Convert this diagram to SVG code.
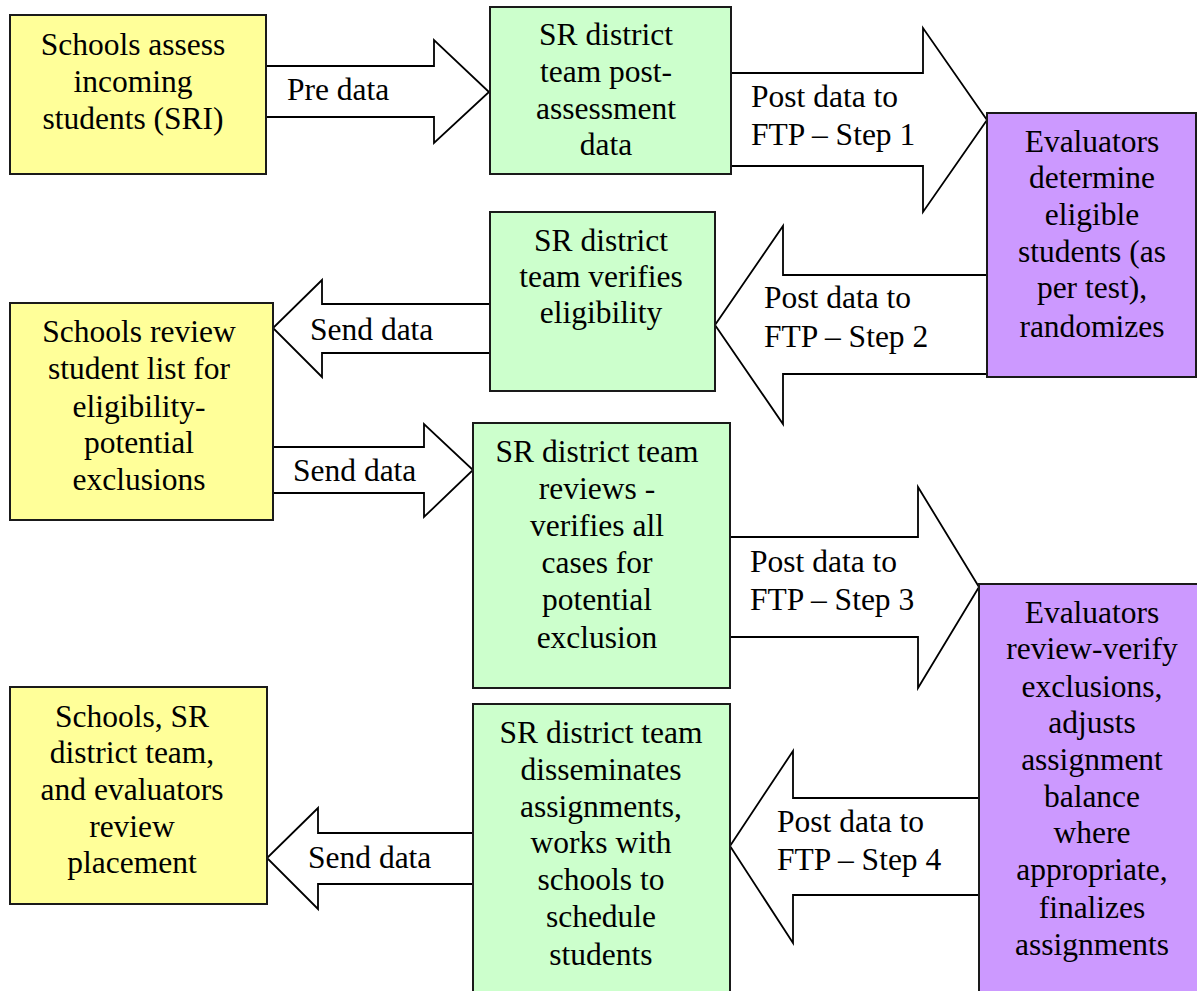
<svg xmlns="http://www.w3.org/2000/svg" width="1197" height="991" viewBox="0 0 1197 991">
<style>
.box{stroke:#1a1a1a;stroke-width:2}
.y{fill:#FFFF99}
.g{fill:#CCFFCC}
.p{fill:#CC99FF}
.arr{fill:#ffffff;stroke:#000000;stroke-width:1.8;stroke-linejoin:miter}
text{font-size:31.5px;fill:#000000}
.c{text-anchor:middle}
</style>
<rect width="1197" height="991" fill="#ffffff"/>
<g font-family="Liberation Serif, Tinos, Noto Serif, DejaVu Serif, serif">
<g id="connectors">
<polygon class="arr" points="266,66 434,66 434,40 489,92 434,143 434,117 266,117"/>
<polygon class="arr" points="731,73 923,73 923,28 987,120 923,212 923,166 731,166"/>
<polygon class="arr" points="987,275 783,275 783,226 715,325 783,424 783,374 987,374"/>
<polygon class="arr" points="490,304 322,304 322,280 273,328 322,377 322,353 490,353"/>
<polygon class="arr" points="273,447 424,447 424,424 473,470 424,517 424,493 273,493"/>
<polygon class="arr" points="730,537 918,537 918,487 979,587 918,688 918,637 730,637"/>
<polygon class="arr" points="474,833 318,833 318,808 267,858 318,909 318,884 474,884"/>
<polygon class="arr" points="979,798 793,798 793,751 730,846 793,943 793,895 979,895"/>
<text x="287" y="100">Pre data</text>
<text x="751" y="107">Post data to</text>
<text x="751" y="145">FTP – Step 1</text>
<text x="764" y="308">Post data to</text>
<text x="764" y="347">FTP – Step 2</text>
<text x="310" y="340">Send data</text>
<text x="293" y="481">Send data</text>
<text x="750" y="572">Post data to</text>
<text x="750" y="610">FTP – Step 3</text>
<text x="308" y="868">Send data</text>
<text x="777" y="832">Post data to</text>
<text x="777" y="870">FTP – Step 4</text>
</g>
<g id="n_schools_assess">
<rect class="box y" x="10" y="15" width="256" height="159"/>
<text class="c" x="133" y="55">Schools assess</text>
<text class="c" x="133" y="92">incoming</text>
<text class="c" x="133" y="129">students (SRI)</text>
</g>
<g id="n_sr_post">
<rect class="box g" x="490" y="7" width="241" height="167"/>
<text class="c" x="606" y="45">SR district</text>
<text class="c" x="606" y="82">team post-</text>
<text class="c" x="606" y="119">assessment</text>
<text class="c" x="606" y="155">data</text>
</g>
<g id="n_eval_determine">
<rect class="box p" x="987" y="113" width="209" height="264"/>
<text class="c" x="1092" y="152">Evaluators</text>
<text class="c" x="1092" y="188">determine</text>
<text class="c" x="1092" y="225">eligible</text>
<text class="c" x="1092" y="262">students (as</text>
<text class="c" x="1092" y="298">per test),</text>
<text class="c" x="1092" y="337">randomizes</text>
</g>
<g id="n_sr_verifies">
<rect class="box g" x="490" y="212" width="225" height="179"/>
<text class="c" x="601" y="251">SR district</text>
<text class="c" x="601" y="287">team verifies</text>
<text class="c" x="601" y="323">eligibility</text>
</g>
<g id="n_schools_review">
<rect class="box y" x="10" y="303" width="263" height="217"/>
<text class="c" x="139" y="342">Schools review</text>
<text class="c" x="139" y="379">student list for</text>
<text class="c" x="139" y="417">eligibility-</text>
<text class="c" x="139" y="453">potential</text>
<text class="c" x="139" y="490">exclusions</text>
</g>
<g id="n_sr_reviews">
<rect class="box g" x="473" y="423" width="257" height="265"/>
<text class="c" x="597" y="462">SR district team</text>
<text class="c" x="597" y="499">reviews -</text>
<text class="c" x="597" y="536">verifies all</text>
<text class="c" x="597" y="573">cases for</text>
<text class="c" x="597" y="610">potential</text>
<text class="c" x="597" y="648">exclusion</text>
</g>
<g id="n_eval_review">
<rect class="box p" x="979" y="584" width="220" height="420"/>
<text class="c" x="1092" y="623">Evaluators</text>
<text class="c" x="1092" y="659">review-verify</text>
<text class="c" x="1092" y="697">exclusions,</text>
<text class="c" x="1092" y="733">adjusts</text>
<text class="c" x="1092" y="770">assignment</text>
<text class="c" x="1092" y="807">balance</text>
<text class="c" x="1092" y="843">where</text>
<text class="c" x="1092" y="880">appropriate,</text>
<text class="c" x="1092" y="918">finalizes</text>
<text class="c" x="1092" y="955">assignments</text>
</g>
<g id="n_schools_placement">
<rect class="box y" x="10" y="687" width="257" height="217"/>
<text class="c" x="132" y="727">Schools, SR</text>
<text class="c" x="132" y="763">district team,</text>
<text class="c" x="132" y="800">and evaluators</text>
<text class="c" x="132" y="837">review</text>
<text class="c" x="132" y="873">placement</text>
</g>
<g id="n_sr_disseminates">
<rect class="box g" x="473" y="704" width="257" height="300"/>
<text class="c" x="601" y="743">SR district team</text>
<text class="c" x="601" y="780">disseminates</text>
<text class="c" x="601" y="817">assignments,</text>
<text class="c" x="601" y="853">works with</text>
<text class="c" x="601" y="890">schools to</text>
<text class="c" x="601" y="927">schedule</text>
<text class="c" x="601" y="965">students</text>
</g>
</g>
</svg>
